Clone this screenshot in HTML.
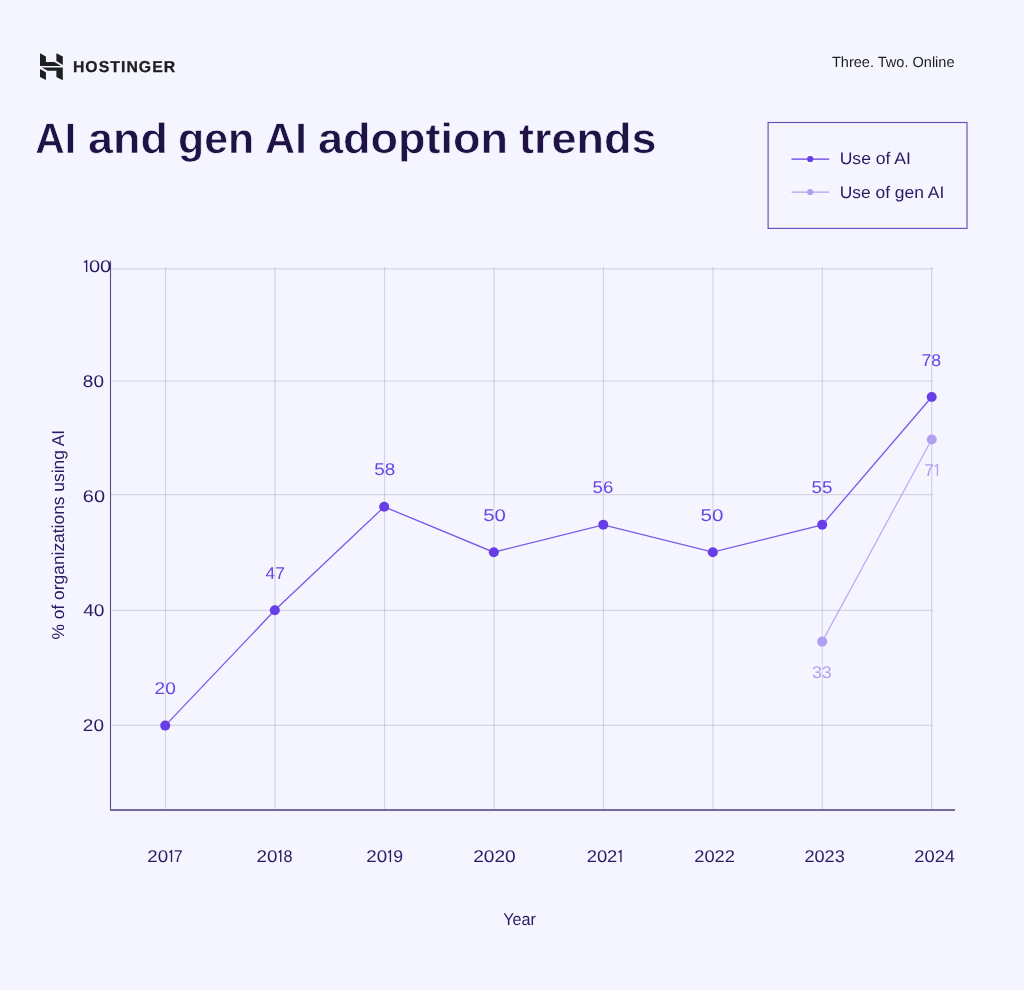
<!DOCTYPE html>
<html>
<head>
<meta charset="utf-8">
<title>AI and gen AI adoption trends</title>
<style>
  html, body { margin: 0; padding: 0; background: #f4f5ff; }
  body { width: 1024px; height: 990px; overflow: hidden; font-family: "Liberation Sans", sans-serif; }
  svg { display: block; will-change: transform; }
  text { font-family: "Liberation Sans", sans-serif; text-rendering: geometricPrecision; }
</style>
</head>
<body>
<svg width="1024" height="990" viewBox="0 0 1024 990">
  <!-- Logo mark -->
  <g fill="#1d1e20">
    <polygon points="40,53.3 45.9,56.5 45.9,62.1 54.4,62.1 61.2,65.9 40,65.9"/>
    <polygon points="56.4,53.3 62.8,56.5 62.8,65.1 56.4,60.9"/>
    <polygon points="40,68.9 45.9,72.3 45.9,80.1 40,77"/>
    <polygon points="41.6,67.5 62.8,67.5 62.8,80.15 56.4,76.95 56.4,70.85 47.8,70.85"/>
  </g>
  <text x="72.9" y="71.7" font-size="15.8" font-weight="700" letter-spacing="1.05" fill="#1d1e20" stroke="#1d1e20" stroke-width="0.3">HOSTINGER</text>
  <!-- Tagline -->
  <text transform="translate(831.95,66.7) scale(0.9826,1)" font-size="14.8" fill="#1d1e20">Three. Two. Online</text>
  <!-- Title -->
  <text transform="translate(35.34,152.6) scale(0.96,1)" font-size="42.5" font-weight="700" fill="#1f1346" stroke="#f4f5ff" stroke-width="0.6">AI</text>
  <text transform="translate(88.08,152.6) scale(1.0545,1)" font-size="42.5" font-weight="700" fill="#1f1346" stroke="#f4f5ff" stroke-width="0.6">and</text>
  <text transform="translate(178.04,152.6) scale(1.0077,1)" font-size="42.5" font-weight="700" fill="#1f1346" stroke="#f4f5ff" stroke-width="0.6">gen</text>
  <text transform="translate(265.12,152.6) scale(0.9781,1)" font-size="42.5" font-weight="700" fill="#1f1346" stroke="#f4f5ff" stroke-width="0.6">AI</text>
  <text transform="translate(317.88,152.6) scale(1.0593,1)" font-size="42.5" font-weight="700" fill="#1f1346" stroke="#f4f5ff" stroke-width="0.6">adoption</text>
  <text transform="translate(519.07,152.6) scale(1.0583,1)" font-size="42.5" font-weight="700" fill="#1f1346" stroke="#f4f5ff" stroke-width="0.6">trends</text>
  <!-- Legend -->
  <rect x="768.1" y="122.5" width="198.9" height="105.9" fill="none" stroke="#6a4cb6" stroke-width="1.15"/>
  <line x1="791.5" y1="159" x2="829.2" y2="159" stroke="#673de6" stroke-width="1.25"/>
  <circle cx="810.2" cy="159" r="3.1" fill="#673de6"/>
  <line x1="791.5" y1="192" x2="829.2" y2="192" stroke="#b29ff2" stroke-width="1.25"/>
  <circle cx="810.2" cy="192" r="3.1" fill="#b29ff2"/>
  <text transform="translate(839.69,164.3) scale(1.0467,1)" font-size="16.8" fill="#2a1a62">Use of AI</text>
  <text transform="translate(839.7,197.8) scale(1.0378,1)" font-size="16.8" fill="#2a1a62">Use of gen AI</text>
  <!-- Gridlines -->
  <g stroke="#3a3068" stroke-opacity="0.17" stroke-width="1.15" fill="none">
    <line x1="111" y1="268.8" x2="932.8" y2="268.8"/>
    <line x1="111" y1="381.0" x2="932.8" y2="381.0"/>
    <line x1="111" y1="494.6" x2="932.8" y2="494.6"/>
    <line x1="111" y1="610.3" x2="932.8" y2="610.3"/>
    <line x1="111" y1="725.4" x2="932.8" y2="725.4"/>
    <line x1="165.5" y1="267" x2="165.5" y2="810"/>
    <line x1="274.9" y1="267" x2="274.9" y2="810"/>
    <line x1="384.5" y1="267" x2="384.5" y2="810"/>
    <line x1="494.1" y1="267" x2="494.1" y2="810"/>
    <line x1="603.4" y1="267" x2="603.4" y2="810"/>
    <line x1="713.0" y1="267" x2="713.0" y2="810"/>
    <line x1="822.3" y1="267" x2="822.3" y2="810"/>
    <line x1="931.65" y1="267" x2="931.65" y2="810"/>
  </g>
  <!-- Axes -->
  <line x1="110.5" y1="260.8" x2="110.5" y2="811" stroke="#574e7b" stroke-width="1.1"/>
  <line x1="110" y1="810" x2="955" y2="810" stroke="#756b99" stroke-width="2"/>
  <!-- Series: gen AI -->
  <polyline points="822.2,641.6 931.7,439.5" fill="none" stroke="#b9a8f5" stroke-width="1.2"/>
  <circle cx="822.2" cy="641.6" r="5" fill="#b29ff2"/>
  <circle cx="931.7" cy="439.5" r="5" fill="#b29ff2"/>
  <!-- Series: AI -->
  <polyline points="165.2,725.6 274.8,610.3 384.2,506.8 493.8,552.2 603.3,524.8 712.8,552.2 822.2,524.8 931.7,397.0" fill="none" stroke="#7a58ec" stroke-width="1.3"/>
  <g fill="#673de6">
    <circle cx="165.2" cy="725.6" r="5"/>
    <circle cx="274.8" cy="610.3" r="5"/>
    <circle cx="384.2" cy="506.8" r="5"/>
    <circle cx="493.8" cy="552.2" r="5"/>
    <circle cx="603.3" cy="524.8" r="5"/>
    <circle cx="712.8" cy="552.2" r="5"/>
    <circle cx="822.2" cy="524.8" r="5"/>
    <circle cx="931.7" cy="397.0" r="5"/>
  </g>
  <!-- Data labels -->
  <text transform="translate(154.56,694.3) scale(1.1257,1)" font-size="17" fill="#6a45e3">20</text>
  <text transform="translate(265.59,579.2) scale(1.0229,1)" font-size="17" fill="#6a45e3">47</text>
  <text transform="translate(374.16,475.3) scale(1.1143,1)" font-size="17" fill="#6a45e3">58</text>
  <text transform="translate(483.2,520.5) scale(1.2,1)" font-size="17" fill="#6a45e3">50</text>
  <text transform="translate(592.58,493.2) scale(1.0971,1)" font-size="17" fill="#6a45e3">56</text>
  <text transform="translate(700.5,520.5) scale(1.2057,1)" font-size="17" fill="#6a45e3">50</text>
  <text transform="translate(811.57,493.0) scale(1.1086,1)" font-size="17" fill="#6a45e3">55</text>
  <text transform="translate(921.42,365.8) scale(1.04,1)" font-size="17" fill="#6a45e3">78</text>
  <text transform="translate(811.91,678.0) scale(1.0514,1)" font-size="17" fill="#b29ff2">33</text>
  <text transform="translate(924.13,476.0) scale(1.0323,1)" font-size="17" fill="#b29ff2">7</text>
  <path d="M935.00,466.40 L937.43,464.85 L937.43,476.00" fill="none" stroke="#b29ff2" stroke-width="1.35" stroke-linejoin="miter"/>
  <!-- Y tick labels -->
  <path d="M84.00,262.40 L86.62,260.85 L86.62,272.00" fill="none" stroke="#2a1a62" stroke-width="1.35" stroke-linejoin="miter"/>
  <text transform="translate(88.91,272.4) scale(1.1829,1)" font-size="17" fill="#2a1a62">00</text>
  <text transform="translate(82.86,386.8) scale(1.1143,1)" font-size="17" fill="#2a1a62">80</text>
  <text transform="translate(82.82,501.8) scale(1.1714,1)" font-size="17" fill="#2a1a62">60</text>
  <text transform="translate(83.14,616.3) scale(1.1268,1)" font-size="17" fill="#2a1a62">40</text>
  <text transform="translate(82.86,731.0) scale(1.1143,1)" font-size="17" fill="#2a1a62">20</text>
  <!-- X tick labels -->
  <text transform="translate(147.37,861.5) scale(1.1029,1)" font-size="17" fill="#2a1a62">20</text>
  <path d="M169.40,852.40 L171.52,850.85 L171.52,862.00" fill="none" stroke="#2a1a62" stroke-width="1.35" stroke-linejoin="miter"/>
  <text transform="translate(173.79,861.5) scale(0.9419,1)" font-size="17" fill="#2a1a62">7</text>
  <text transform="translate(256.57,861.5) scale(1.1029,1)" font-size="17" fill="#2a1a62">20</text>
  <path d="M278.60,852.40 L280.73,850.85 L280.73,862.00" fill="none" stroke="#2a1a62" stroke-width="1.35" stroke-linejoin="miter"/>
  <text transform="translate(283.59,861.5) scale(0.95,1)" font-size="17" fill="#2a1a62">8</text>
  <text transform="translate(366.27,861.5) scale(1.1029,1)" font-size="17" fill="#2a1a62">20</text>
  <path d="M388.30,852.40 L390.43,850.85 L390.43,862.00" fill="none" stroke="#2a1a62" stroke-width="1.35" stroke-linejoin="miter"/>
  <text transform="translate(393.22,861.5) scale(1.0375,1)" font-size="17" fill="#2a1a62">9</text>
  <text transform="translate(473.16,861.5) scale(1.126,1)" font-size="17" fill="#2a1a62">2020</text>
  <text transform="translate(586.69,861.5) scale(1.0804,1)" font-size="17" fill="#2a1a62">202</text>
  <path d="M618.60,852.40 L620.93,850.85 L620.93,862.00" fill="none" stroke="#2a1a62" stroke-width="1.35" stroke-linejoin="miter"/>
  <text transform="translate(694.19,861.5) scale(1.0786,1)" font-size="17" fill="#2a1a62">2022</text>
  <text transform="translate(804.4,861.5) scale(1.0676,1)" font-size="17" fill="#2a1a62">2023</text>
  <text transform="translate(914.29,861.5) scale(1.0767,1)" font-size="17" fill="#2a1a62">2024</text>
  <!-- Axis titles -->
  <text transform="translate(503.23,925.2) scale(0.9412,1)" font-size="17.2" fill="#2a1a62">Year</text>
  <text transform="translate(63.7,639.51) rotate(-90) scale(1.0114,1)" font-size="17.2" fill="#2a1a62">% of organizations using AI</text>
</svg>
</body>
</html>
